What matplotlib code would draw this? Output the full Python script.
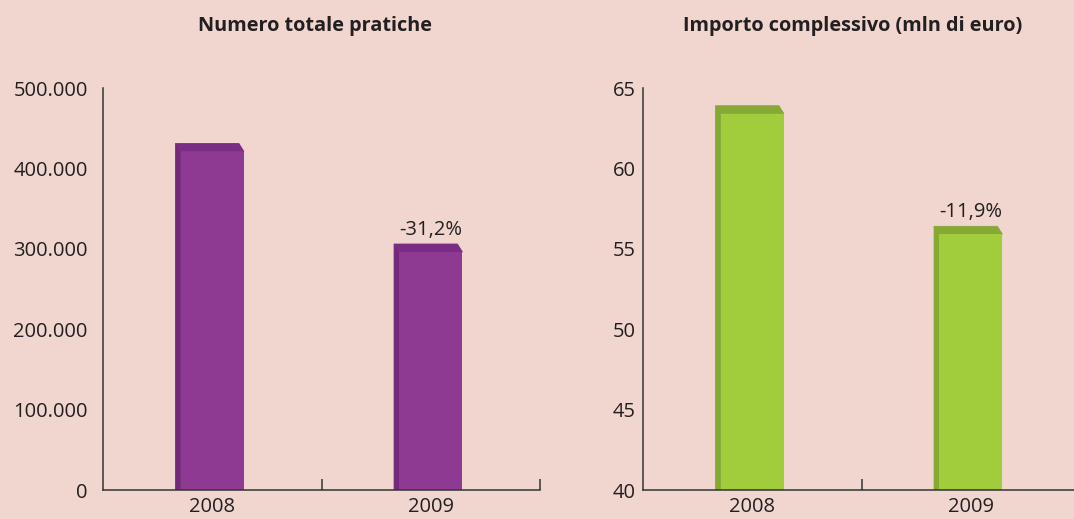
import matplotlib.pyplot as plt
from matplotlib.patches import Polygon

plt.rcParams['font.family'] = ['Open Sans', 'DejaVu Sans']

years = ['2008', '2009']
pratiche = [421000, 296000]
importo = [63.4, 55.9]
var_pratiche = '-31,2%'
var_importo = '-11,9%'

titles = ['Numero totale pratiche', 'Importo complessivo (mln di euro)']

bg = '#F0D6CF'
txt = '#231F20'

fig = plt.figure(figsize=(10.74, 5.19), dpi=100, facecolor=bg)

W, H = 1074, 519
ax1 = fig.add_axes([103 / W, 29 / H, 437 / W, 402 / H])
ax2 = fig.add_axes([643 / W, 29 / H, 437 / W, 402 / H])


def bar3d(ax, values, base, top, front, side, lid, label, fmt):
    ax.set_facecolor(bg)
    ax.set_xlim(-0.5, 1.5)
    ax.set_ylim(base, top)
    # depth of the fake 3d in pixels -> data units
    dx = 5 / 437 * 2.0
    dy = 8 / 402 * (top - base)
    w = 0.29
    x = list(range(len(values)))
    for xi, v in zip(x, values):
        l, r = xi - w / 2, xi + w / 2
        ax.add_patch(Polygon([(l, base), (l, v), (l - dx, v + dy), (l - dx, base)],
                             closed=True, facecolor=side, edgecolor=side,
                             lw=0.6, zorder=3))
        ax.add_patch(Polygon([(l, v), (r, v), (r - dx, v + dy), (l - dx, v + dy)],
                             closed=True, facecolor=lid, edgecolor=lid,
                             lw=0.6, zorder=3))
    ax.bar(x, [v - base for v in values], bottom=base, width=w,
           color=front, zorder=4)
    ax.annotate(label, (x[1], values[1]), xytext=(0, 12.5),
                textcoords='offset points', ha='center', va='baseline',
                fontsize=14.5, color=txt)

    for s in ['top', 'right']:
        ax.spines[s].set_visible(False)
    for s in ['left', 'bottom']:
        ax.spines[s].set_color('#333333')
        ax.spines[s].set_linewidth(1.1)
        ax.spines[s].set_zorder(5)

    ax.set_xticks(x)
    ax.set_xticklabels(years)
    ax.set_xticks([0.5, 1.5], minor=True)
    ax.tick_params(axis='x', which='major', length=0, pad=5,
                   labelsize=14.5, labelcolor=txt)
    ax.tick_params(axis='x', which='minor', direction='in', length=8,
                   width=1.1, color='#333333')
    ax.yaxis.set_major_formatter(fmt)
    ax.set_yticks([top], minor=True)
    ax.tick_params(axis='y', which='major', length=0, labelsize=14.5,
                   labelcolor=txt)
    ax.tick_params(axis='y', which='minor', direction='in', length=6,
                   width=1.1, color='#333333')


def fmt_thousands(v, pos):
    return f'{int(v):,}'.replace(',', '.')


ax1.set_yticks(range(0, 500001, 100000))
bar3d(ax1, pratiche, 0, 500000, '#8E3A93', '#74287C', '#7A2D84',
      var_pratiche, plt.FuncFormatter(fmt_thousands))
ax1.tick_params(axis='y', which='major', pad=11)

ax2.set_yticks(range(40, 66, 5))
bar3d(ax2, importo, 40, 65, '#A1CD3C', '#84AA30', '#86A935',
      var_importo, plt.FuncFormatter(lambda v, p: f'{int(v)}'))
ax2.tick_params(axis='y', which='major', pad=5)

fig.text(315 / W, 1 - 26 / H, titles[0], ha='center', va='center',
         fontsize=14.3, fontweight='bold', color=txt)
fig.text(853 / W, 1 - 26 / H, titles[1], ha='center', va='center',
         fontsize=14.3, fontweight='bold', color=txt)

fig.savefig('out.png', dpi=100, facecolor=bg)
